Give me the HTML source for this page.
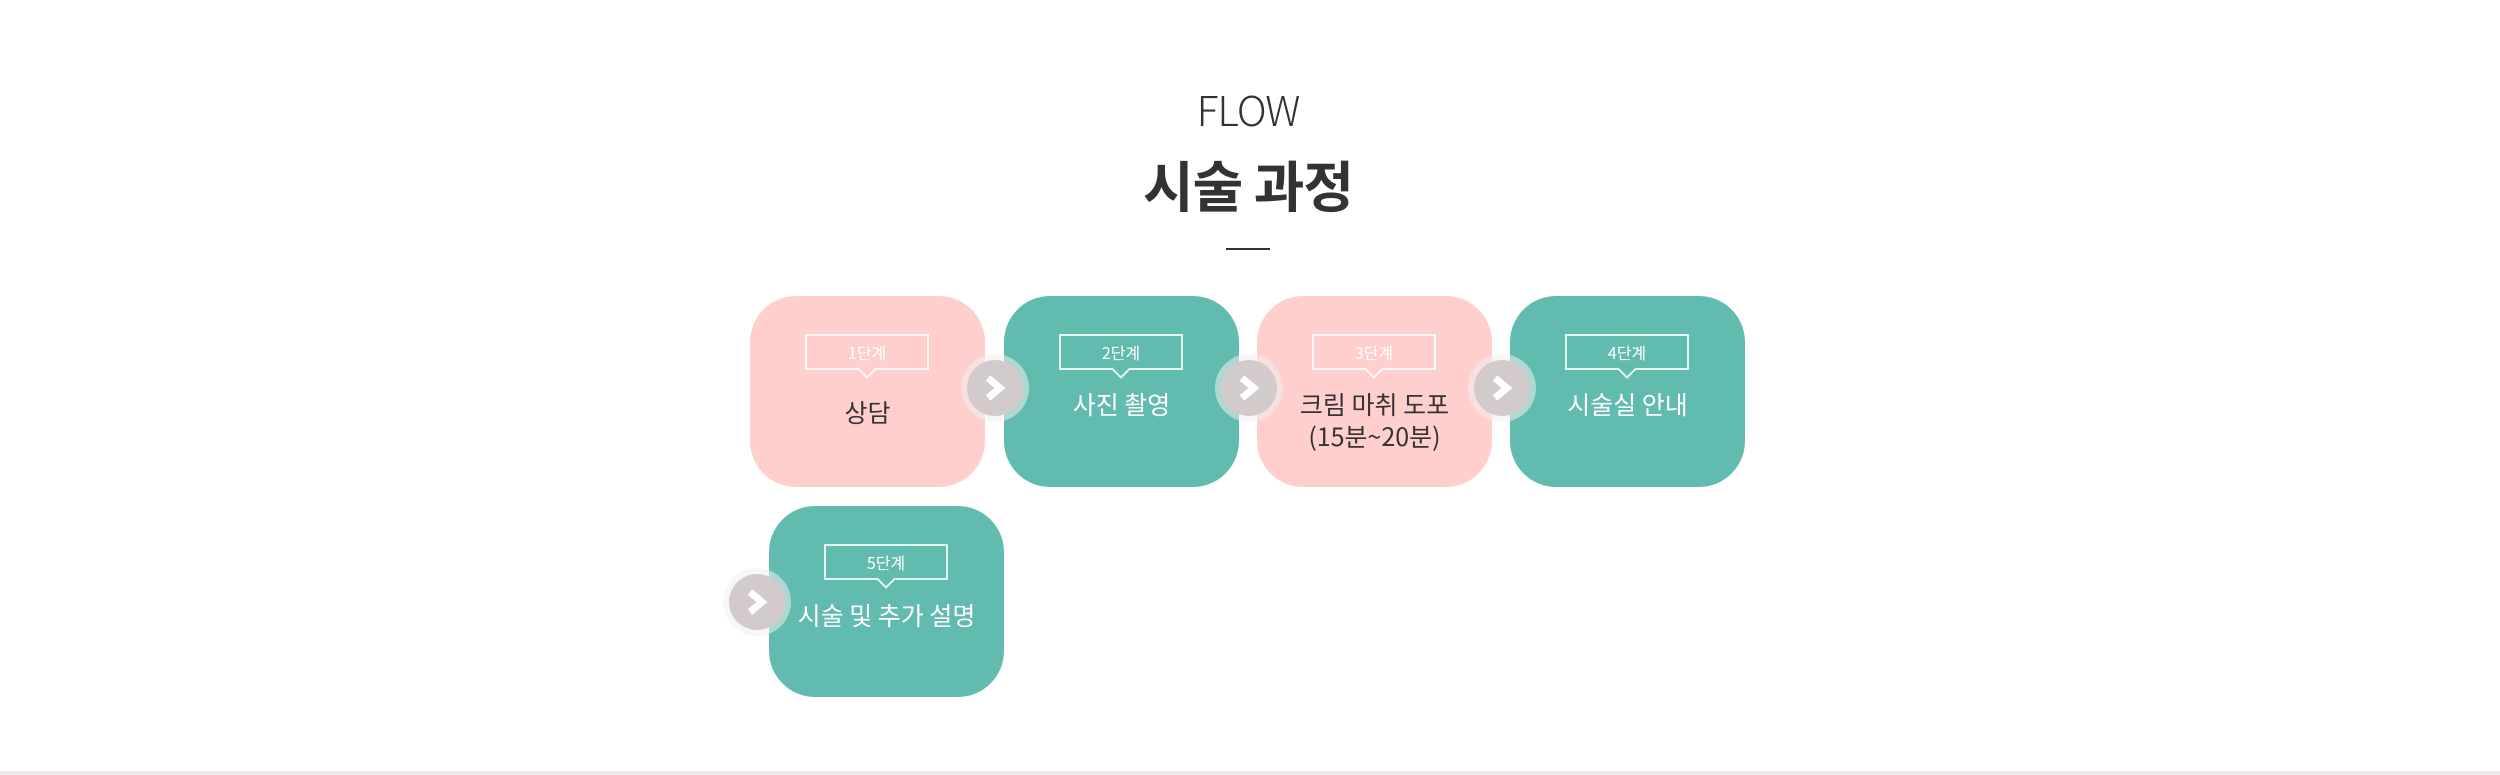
<!DOCTYPE html>
<html><head><meta charset="utf-8"><style>
html,body{margin:0;padding:0;background:#fff;}
body{width:2500px;height:775px;position:relative;overflow:hidden;font-family:"Noto Sans CJK KR","Liberation Sans",sans-serif;}
.abs{position:absolute;}
.flow{left:0;width:2496px;top:83px;height:50px;line-height:50px;text-align:center;font-size:41px;font-weight:300;color:#333;letter-spacing:-1px;}
.title{left:0;width:2496px;top:151px;height:64px;line-height:64px;text-align:center;font-size:55px;font-weight:700;color:#333;letter-spacing:-1px;}
.bar{left:1226px;top:248px;width:44px;height:2px;background:#333;}
.box{position:absolute;width:235px;height:191px;border-radius:46px;}
.pink{background:#ffcfcd;color:#333;}
.teal{background:#62bbaf;color:#fff;}
.lab{position:absolute;left:55px;top:38px;width:120px;height:32px;border:2px solid rgba(255,255,255,.85);color:#fff;font-size:16px;text-align:center;line-height:32px;}
.tail{position:absolute;left:53px;top:26px;width:12px;height:12px;transform:rotate(45deg);border-right:2px solid rgba(255,255,255,.85);border-bottom:2px solid rgba(255,255,255,.85);}
.pink .tail{background:#ffcfcd}.teal .tail{background:#62bbaf}
.txt{position:absolute;left:0;width:235px;top:92px;text-align:center;font-size:25px;line-height:32px;}
.arr{position:absolute;width:56px;height:56px;border-radius:50%;background:#d3cacb;box-shadow:0 0 0 6px rgba(240,240,240,.55);}
.arr svg{position:absolute;left:0;top:0;}
.foot{left:0;top:771px;width:2500px;height:4px;background:#eeeae9;}
</style></head><body>
<div class="abs flow">FLOW</div>
<div class="abs title">시술 과정</div>
<div class="abs bar"></div>

<div class="box pink" style="left:750px;top:296px"><div class="lab">1단계<div class="tail"></div></div><div class="txt" style="top:100px">상담</div></div>
<div class="box teal" style="left:1004px;top:296px"><div class="lab">2단계<div class="tail"></div></div><div class="txt" style="top:92px">사진 촬영</div></div>
<div class="box pink" style="left:1257px;top:296px"><div class="lab">3단계<div class="tail"></div></div><div class="txt" style="top:92px">크림 마취 도포<br>(15분~20분)</div></div>
<div class="box teal" style="left:1510px;top:296px"><div class="lab">4단계<div class="tail"></div></div><div class="txt" style="top:92px">시술실 안내</div></div>
<div class="box teal" style="left:769px;top:506px"><div class="lab">5단계<div class="tail"></div></div><div class="txt" style="top:93px">시술 및 추가 설명</div></div>

<div class="arr" style="left:967px;top:360px"><svg width="56" height="56"><polyline points="21,18 33,28 21,38" fill="none" stroke="#fff" stroke-width="7"/></svg></div>
<div class="arr" style="left:1221px;top:360px"><svg width="56" height="56"><polyline points="21,18 33,28 21,38" fill="none" stroke="#fff" stroke-width="7"/></svg></div>
<div class="arr" style="left:1474px;top:360px"><svg width="56" height="56"><polyline points="21,18 33,28 21,38" fill="none" stroke="#fff" stroke-width="7"/></svg></div>
<div class="arr" style="left:729px;top:574px"><svg width="56" height="56"><polyline points="21,18 33,28 21,38" fill="none" stroke="#fff" stroke-width="7"/></svg></div>

<div class="abs foot"></div>
</body></html>
